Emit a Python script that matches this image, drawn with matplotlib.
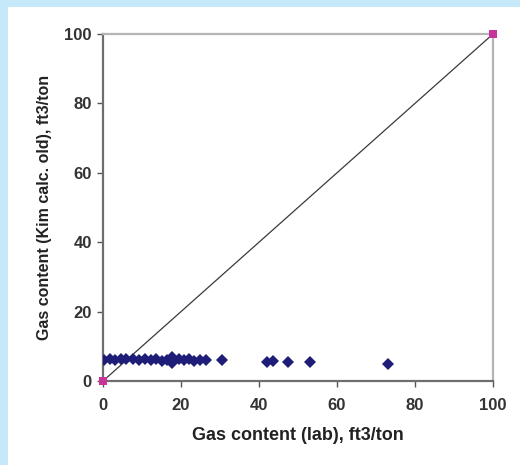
import matplotlib
matplotlib.use("Agg")
import matplotlib.pyplot as plt
from matplotlib.patches import Rectangle

# Measured gas content (lab) vs. calculated (Kim, old method), ft3/ton
lab_gas = [0.2, 1.8, 3.1, 4.5, 6.0, 7.6, 9.3, 10.8, 12.2, 13.6, 15.0, 16.5,
           17.6, 17.8, 19.6, 20.8, 22.0, 23.3, 24.8, 26.4, 30.5,
           42.0, 43.6, 47.4, 53.2, 73.0]
kim_gas = [6.1, 6.3, 6.0, 6.4, 6.2, 6.4, 6.1, 6.3, 6.0, 6.2, 5.9, 6.1,
           5.3, 6.8, 6.3, 6.0, 6.2, 5.9, 6.1, 6.0, 6.0,
           5.6, 5.8, 5.5, 5.5, 5.0]

# 1:1 reference line end points
ref_x = [0, 100]
ref_y = [0, 100]

ticks = [0, 20, 40, 60, 80, 100]

plt.rcParams['font.family'] = ['Liberation Sans', 'DejaVu Sans']

fig = plt.figure(figsize=(5.2, 4.65), dpi=100, facecolor='#C6E9F9')
fig.patches.append(Rectangle((7.5 / 520, 0), 1, (465 - 7.5) / 465,
                             transform=fig.transFigure, facecolor='white',
                             edgecolor='none', zorder=-10))

ax = fig.add_axes([103 / 520, (465 - 381) / 465, 390 / 520, 347 / 465])
ax.set_facecolor('white')

ax.plot(ref_x, ref_y, color='#3a3a3a', lw=0.9, zorder=2)
ax.plot(lab_gas, kim_gas, linestyle='none', marker='D', markersize=6.0,
        color='#1E1E78', markeredgewidth=0, zorder=3)
ax.plot(ref_x, ref_y, linestyle='none', marker='s', markersize=5.5,
        color='#C8339A', markeredgewidth=0, zorder=4, clip_on=False)

ax.set_xlim(0, 100)
ax.set_ylim(0, 100)
ax.set_xticks(ticks)
ax.set_yticks(ticks)

for side in ('left', 'bottom'):
    ax.spines[side].set_color('#6e6e6e')
    ax.spines[side].set_linewidth(1.6)
for side in ('top', 'right'):
    ax.spines[side].set_color('#b5b5b5')
    ax.spines[side].set_linewidth(1.6)

ax.tick_params(axis='both', direction='out', length=4, width=1.0,
               color='#555555', labelsize=12, labelcolor='#333333')
ax.tick_params(axis='x', pad=8)
ax.tick_params(axis='y', pad=4)
for lbl in ax.get_xticklabels() + ax.get_yticklabels():
    lbl.set_fontweight('bold')

ax.set_xlabel('Gas content (lab), ft3/ton', fontsize=13, fontweight='bold',
              color='#222222', labelpad=10.5)
ax.set_ylabel('Gas content (Kim calc. old), ft3/ton', fontsize=11.5,
              fontweight='bold', color='#222222', labelpad=9)

fig.savefig('out.png', dpi=100, facecolor=fig.get_facecolor())
